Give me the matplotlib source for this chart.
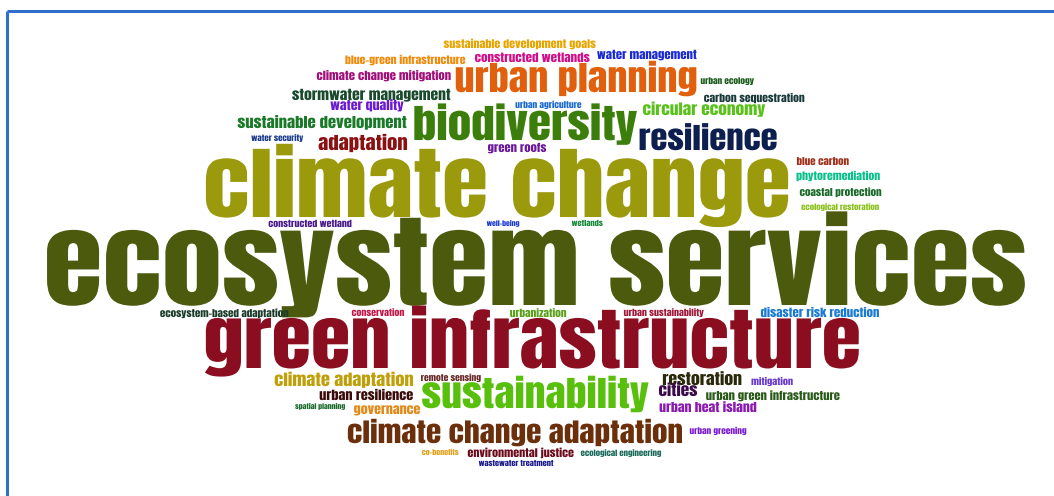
import matplotlib
matplotlib.use("Agg")
import matplotlib.pyplot as plt
from matplotlib.patheffects import AbstractPathEffect
from matplotlib.transforms import Affine2D

plt.rcParams['font.family'] = ['Anton', 'DejaVu Sans']

# keywords and their relative weight (frequency)
words = [
    "ecosystem services", "climate change", "green infrastructure", "biodiversity",
    "urban planning", "resilience", "sustainability", "climate change adaptation",
    "sustainable development", "adaptation", "stormwater management",
    "climate change mitigation", "water quality", "water security",
    "blue-green infrastructure", "sustainable development goals", "constructed wetlands",
    "water management", "urban ecology", "carbon sequestration", "circular economy",
    "urban agriculture", "green roofs", "blue carbon", "phytoremediation",
    "coastal protection", "ecological restoration", "constructed wetland", "well-being",
    "wetlands", "ecosystem-based adaptation", "conservation", "urbanization",
    "urban sustainability", "disaster risk reduction", "climate adaptation",
    "remote sensing", "restoration", "mitigation", "cities", "urban green infrastructure",
    "urban heat island", "urban resilience", "spatial planning", "governance",
    "urban greening", "co-benefits", "environmental justice", "ecological engineering",
    "wastewater treatment",
]
weights = [
    87, 68, 58, 34, 29, 25, 30, 22.5,
    12, 15, 11.2, 9.2, 10, 6.4,
    8.5, 8.7, 9.4, 9.2, 6.7, 8.4, 12.5,
    6.8, 9.1, 7.9, 8.5, 8.0, 6.3, 7.2, 5.6,
    6.1, 7.9, 7.2, 8.2, 7.2, 9.3, 13.3,
    6.9, 12.8, 7.4, 12.5, 9.0, 10, 10.3, 5.6, 10.1,
    6.7, 5.8, 8.7, 6.3, 6.0,
]

# layout of the cloud (centre x, baseline y in pixels) and colours
pos = [
    (535, 305), (497, 217), (532, 368), (525, 140), (576, 92), (708, 150), (535, 408), (515, 443),
    (322, 128), (363, 150), (371, 100), (384, 80), (367, 110), (277, 141),
    (405, 64), (520, 48), (532, 62), (647, 59), (727, 84), (754, 102), (704, 115),
    (549, 108), (517, 152), (823, 165), (838, 180), (841, 196), (840, 210), (310, 227), (503, 226),
    (587, 226), (225, 317), (378, 316), (538, 317), (664, 316), (820, 317), (344, 386),
    (451, 381), (702, 385), (772, 385), (678, 396), (773, 400), (708, 412), (366, 400), (320, 409), (387, 414),
    (718, 434), (440, 455), (521, 457), (621, 456), (516, 466),
]
colors = [
    "#4b5a0c", "#9a9a0c", "#8a0d20", "#3c7e0c", "#e0600e", "#0c1f4f", "#58c00c", "#6b2f0c",
    "#1a7a2a", "#8b1212", "#1a4a2e", "#a0107a", "#6a1ad0", "#1a3a8a",
    "#f08a0a", "#e8a500", "#d0108a", "#1a2ad0", "#1a5a1a", "#1a3a3a", "#5ac01a",
    "#1a6ad0", "#6a1a9a", "#a0301a", "#0ac08a", "#1a6a2a", "#8ac01a", "#4a1a8a", "#1a3ad0",
    "#1a8a3a", "#1a3a2a", "#c01a4a", "#5aa01a", "#a01a3a", "#1a7ad0", "#c0a00a",
    "#6a2a2a", "#2a2a0a", "#6a3ad0", "#3a0a4a", "#2a5a1a", "#8a1ab0", "#3a0a0a", "#1a6a2a", "#e08a1a",
    "#7a1ad0", "#e0a01a", "#6a0a1a", "#1a6a5a", "#1a1a8a",
]


class Squash(AbstractPathEffect):
    # Anton is taller than the Impact-like face of the original: flatten glyphs about the baseline
    def __init__(self, sy):
        super().__init__()
        self.sy = sy

    def draw_path(self, renderer, gc, tpath, affine, rgbFace=None):
        renderer.draw_path(gc, tpath, Affine2D().scale(1, self.sy) + affine, rgbFace)


fig = plt.figure(figsize=(10.54, 4.96), dpi=100)
ax = fig.add_axes([0, 0, 1, 1])
ax.set_xlim(0, 1054)
ax.set_ylim(496, 0)
ax.axis("off")

for w, s, (x, y), c in zip(words, weights, pos, colors):
    ax.text(x, y, w, fontsize=s, color=c, ha="center", va="baseline",
            path_effects=[Squash(0.84)])

# blue frame (top and left edges)
ax.plot([7, 1054], [11, 11], color="#2f6ec9", lw=2.2, solid_capstyle="butt")
ax.plot([7, 7], [11, 496], color="#2f6ec9", lw=2.2, solid_capstyle="butt")

fig.savefig("out.png", dpi=100)
